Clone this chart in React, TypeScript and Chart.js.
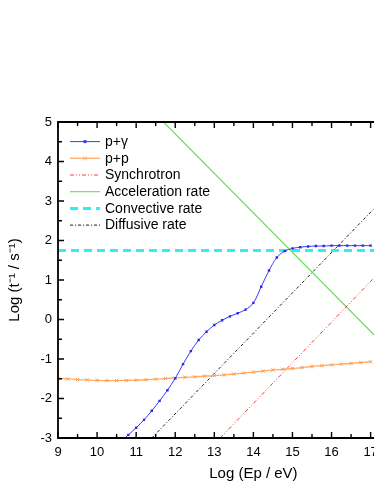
import React, { useEffect, useRef } from 'react';
import { Chart, registerables } from 'chart.js';

Chart.register(...registerables);

// ---- Data ----
const X_MIN = 9;
const X_MAX = 19; // figure is cropped on the right; visible up to ~17
const Y_MIN = -3;
const Y_MAX = 5;

const pgX = [10.6, 10.8, 11.0, 11.2, 11.4, 11.6, 11.8, 12.0, 12.2, 12.4, 12.6, 12.8, 13.0, 13.2, 13.4, 13.6, 13.8, 14.0, 14.2, 14.4, 14.6, 14.8, 15.0, 15.2, 15.4, 15.6, 15.8, 16.0, 16.2, 16.4, 16.6, 16.8, 17.0];
const pgY = [-3.1, -2.92, -2.74, -2.54, -2.31, -2.06, -1.79, -1.49, -1.13, -0.8, -0.52, -0.31, -0.14, -0.02, 0.08, 0.16, 0.25, 0.42, 0.83, 1.24, 1.57, 1.73, 1.8, 1.83, 1.85, 1.86, 1.86, 1.87, 1.87, 1.87, 1.87, 1.87, 1.87];

const ppX = [9.0, 9.25, 9.5, 9.75, 10.0, 10.25, 10.5, 10.75, 11.0, 11.25, 11.5, 11.75, 12.0, 12.25, 12.5, 12.75, 13.0, 13.25, 13.5, 13.75, 14.0, 14.25, 14.5, 14.75, 15.0, 15.25, 15.5, 15.75, 16.0, 16.25, 16.5, 16.75, 17.0];
const ppY = [-1.49, -1.505, -1.52, -1.53, -1.54, -1.545, -1.545, -1.54, -1.535, -1.525, -1.51, -1.495, -1.48, -1.465, -1.45, -1.435, -1.42, -1.4, -1.38, -1.355, -1.33, -1.305, -1.28, -1.26, -1.24, -1.215, -1.19, -1.17, -1.15, -1.13, -1.11, -1.09, -1.07];

const synX = [13.15, 17.2];
const synY = [-3, 1.17];

const accX = [11.7, 17.2];
const accY = [5, -0.5];

const convX = [9, 17.2];
const convY = [1.75, 1.75];

const diffX = [11.4, 17.2];
const diffY = [-3, 2.92];

const LABELS = ['p+\u03b3', 'p+p', 'Synchrotron', 'Acceleration rate', 'Convective rate', 'Diffusive rate'];

const toPts = (xs: number[], ys: number[]) => xs.map((x, i) => ({ x, y: ys[i] }));

const FONT = '"Liberation Sans", Arial, Helvetica, sans-serif';

const framePlugin = {
  id: 'frame',
  afterDatasetsDraw(chart: any) {
    const { ctx, chartArea: a, scales } = chart;
    const xs = scales.x;
    const ys = scales.y;
    ctx.save();
    ctx.strokeStyle = '#000';
    ctx.setLineDash([]);
    ctx.lineWidth = 1.8;
    ctx.beginPath();
    ctx.moveTo(a.left - 0.9, a.top);
    ctx.lineTo(a.right, a.top);
    ctx.moveTo(a.left - 0.9, a.bottom);
    ctx.lineTo(a.right, a.bottom);
    ctx.moveTo(a.left, a.top - 0.9);
    ctx.lineTo(a.left, a.bottom + 0.9);
    ctx.stroke();
    ctx.lineWidth = 1.4;
    ctx.beginPath();
    for (let v = X_MIN; v <= X_MAX + 1e-9; v += 0.5) {
      const px = xs.getPixelForValue(v);
      const len = Math.abs(v - Math.round(v)) < 1e-6 ? 6 : 4;
      ctx.moveTo(px, a.bottom);
      ctx.lineTo(px, a.bottom - len);
      ctx.moveTo(px, a.top);
      ctx.lineTo(px, a.top + len);
    }
    for (let v = Y_MIN; v <= Y_MAX + 1e-9; v += 0.5) {
      const py = ys.getPixelForValue(v);
      const len = Math.abs(v - Math.round(v)) < 1e-6 ? 6 : 4;
      ctx.moveTo(a.left, py);
      ctx.lineTo(a.left + len, py);
    }
    ctx.stroke();
    ctx.restore();
  },
};

const legendPlugin = {
  id: 'innerLegend',
  afterDraw(chart: any) {
    const { ctx } = chart;
    const x0 = 70;
    const x1 = 100;
    const tx = 105;
    const top = 141.6;
    const step = 16.7;
    ctx.save();
    chart.data.datasets.forEach((ds: any, i: number) => {
      const yy = top + i * step;
      ctx.strokeStyle = ds.borderColor;
      ctx.lineWidth = ds.borderWidth;
      ctx.setLineDash(ds.borderDash || []);
      ctx.beginPath();
      ctx.moveTo(x0, yy);
      ctx.lineTo(x1, yy);
      ctx.stroke();
      ctx.setLineDash([]);
      const cx = (x0 + x1) / 2;
      if (ds.legendMarker === 'dot') {
        ctx.fillStyle = ds.borderColor;
        ctx.fillRect(cx - 1.5, yy - 1.5, 3, 3);
      } else if (ds.legendMarker === 'cross') {
        ctx.strokeStyle = ds.borderColor;
        ctx.lineWidth = 1;
        ctx.beginPath();
        ctx.moveTo(cx - 2, yy - 2);
        ctx.lineTo(cx + 2, yy + 2);
        ctx.moveTo(cx - 2, yy + 2);
        ctx.lineTo(cx + 2, yy - 2);
        ctx.stroke();
      }
      ctx.fillStyle = '#000';
      ctx.font = '14px ' + FONT;
      ctx.textBaseline = 'middle';
      ctx.textAlign = 'left';
      ctx.fillText(ds.label, tx, yy + 0.5);
    });
    ctx.restore();
  },
};

export default function App() {
  const ref = useRef<HTMLCanvasElement | null>(null);

  useEffect(() => {
    if (!ref.current) return;
    Chart.defaults.font.family = FONT;
    Chart.defaults.color = '#000';
    const chart = new Chart(ref.current, {
      type: 'line',
      data: {
        datasets: [
          {
            label: LABELS[0],
            data: toPts(pgX, pgY),
            borderColor: '#3b3bff',
            backgroundColor: '#2a2aee',
            borderWidth: 1,
            pointStyle: 'rect',
            pointRadius: 1.7,
            pointBorderWidth: 0,
            tension: 0.35,
            legendMarker: 'dot',
          } as any,
          {
            label: LABELS[1],
            data: toPts(ppX, ppY),
            borderColor: '#ffaa66',
            backgroundColor: '#ffaa66',
            borderWidth: 1.3,
            pointStyle: 'crossRot',
            pointRadius: 2.3,
            pointBorderWidth: 1,
            pointBorderColor: '#ff9a44',
            cubicInterpolationMode: 'monotone',
            legendMarker: 'cross',
          } as any,
          {
            label: LABELS[2],
            data: toPts(synX, synY),
            borderColor: '#ff3838',
            borderWidth: 1,
            borderDash: [4, 2, 1, 2, 1, 2],
            pointRadius: 0,
          },
          {
            label: LABELS[3],
            data: toPts(accX, accY),
            borderColor: '#66dd55',
            borderWidth: 1.1,
            pointRadius: 0,
          },
          {
            label: LABELS[4],
            data: toPts(convX, convY),
            borderColor: '#33eeee',
            borderWidth: 3,
            borderDash: [8, 5],
            pointRadius: 0,
          },
          {
            label: LABELS[5],
            data: toPts(diffX, diffY),
            borderColor: '#222222',
            borderWidth: 1,
            borderDash: [3, 2, 1, 2],
            pointRadius: 0,
          },
        ],
      },
      options: {
        responsive: false,
        animation: false,
        devicePixelRatio: 1,
        layout: { padding: { top: 122, right: 10, left: 0, bottom: 0 } },
        plugins: {
          legend: { display: false },
          tooltip: { enabled: false },
        },
        scales: {
          x: {
            type: 'linear',
            min: X_MIN,
            max: X_MAX,
            grid: { display: false, drawTicks: false },
            border: { display: false },
            ticks: {
              stepSize: 1,
              padding: 7,
              maxRotation: 0,
              autoSkip: false,
              font: { size: 13 },
              color: '#000',
              callback: (v: any) => String(v),
            },
            title: {
              display: true,
              text: 'Log (Ep / eV)',
              font: { size: 15 },
              color: '#000',
              padding: { top: 0, bottom: 1 },
            },
            afterFit: (s: any) => {
              s.height = 46;
            },
          },
          y: {
            type: 'linear',
            min: Y_MIN,
            max: Y_MAX,
            grid: { display: false, drawTicks: false },
            border: { display: false },
            ticks: {
              stepSize: 1,
              padding: 6,
              font: { size: 13 },
              color: '#000',
              callback: (v: any) => String(v),
            },
            title: {
              display: true,
              text: 'Log (t\u207b\u00b9 / s\u207b\u00b9)',
              font: { size: 15 },
              color: '#000',
              padding: { top: 6, bottom: 0 },
            },
            afterFit: (s: any) => {
              s.width = 58;
            },
          },
        },
      },
      plugins: [framePlugin, legendPlugin],
    });
    return () => chart.destroy();
  }, []);

  return (
    <div
      style={{
        position: 'absolute',
        left: 0,
        top: 0,
        width: 374,
        height: 484,
        overflow: 'hidden',
        background: '#fff',
      }}
    >
      <canvas ref={ref} width={463} height={484} style={{ width: 463, height: 484, display: 'block' }} />
    </div>
  );
}
